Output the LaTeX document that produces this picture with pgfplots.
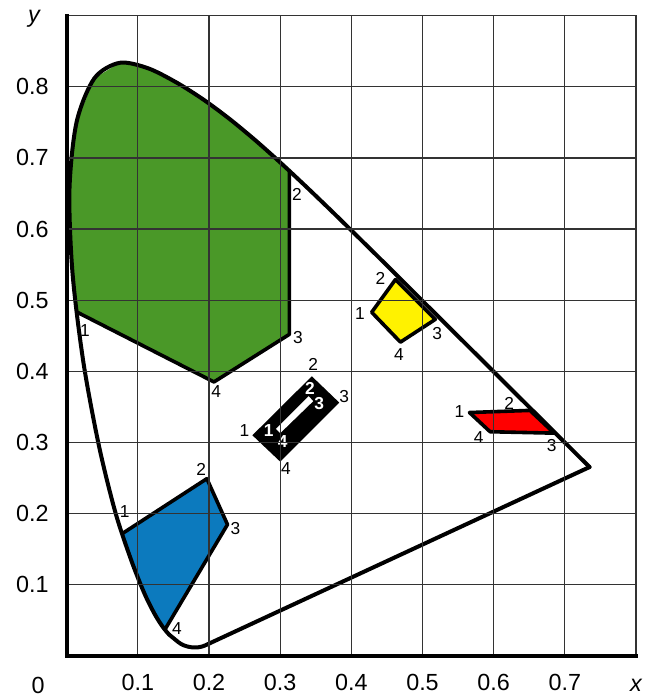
\documentclass[border=0pt]{standalone}
\usepackage{fontspec}
\setmainfont{Liberation Sans}
\usepackage{pgfplots}
\pgfplotsset{compat=1.18}
\definecolor{cgreen}{RGB}{74,152,40}
\definecolor{cblue}{RGB}{12,122,190}
\begin{document}
\begin{tikzpicture}
\begin{axis}[
  scale only axis, width=427pt, height=480pt,
  xmin=0, xmax=0.8, ymin=0, ymax=0.9,
  xtick={0.1,0.2,0.3,0.4,0.5,0.6,0.7},
  xticklabels={0.1,0.2,0.3,0.4,0.5,0.6,0.7},
  ytick={0.1,0.2,0.3,0.4,0.5,0.6,0.7,0.8},
  yticklabels={0.1,0.2,0.3,0.4,0.5,0.6,0.7,0.8},
  major tick length=0pt,
  grid=major,
  grid style={black!80, line width=0.9pt},
  axis line style={black!80, line width=0.9pt},
  axis on top,
  tick label style={font=\fontsize{17.5}{20}\selectfont},
  xticklabel style={yshift=-10pt},
  yticklabel style={xshift=-10pt},
  clip=false,
]
% Green region
\addplot[fill=cgreen, draw=none] coordinates {
 (0.015,0.483) (0.207,0.385) (0.313,0.452) (0.313,0.681)
 (0.3016,0.6923) (0.2658,0.7243) (0.2296,0.7543) (0.1929,0.7816)
 (0.1547,0.8059) (0.1142,0.8262) (0.0743,0.8338) (0.0389,0.8120)
 (0.0139,0.7502) (0.0039,0.6548) (0.0082,0.5384) (0.015,0.483)} --cycle;
\addplot[black, line width=2.7pt, line join=round] coordinates {
 (0.015,0.483) (0.207,0.385) (0.313,0.452) (0.313,0.681)};
% Blue region
\addplot[fill=cblue, draw=none] coordinates {
 (0.0785,0.172) (0.197,0.249) (0.226,0.1845) (0.138,0.0367)
 (0.1241,0.0578) (0.1096,0.0868) (0.0913,0.1327) (0.0785,0.172)} --cycle;
\addplot[black, line width=2.7pt, line join=round] coordinates {
 (0.0785,0.172) (0.197,0.249) (0.226,0.1845) (0.138,0.0367)};
% Yellow region
\addplot[fill=yellow, draw=black, line width=2.7pt, line join=round] coordinates {
 (0.4286,0.483) (0.462,0.529) (0.518,0.473) (0.469,0.441)} --cycle;
% Red region
\addplot[fill=red, draw=black, line width=2.7pt, line join=round] coordinates {
 (0.566,0.342) (0.651,0.345) (0.685,0.313) (0.595,0.315)} --cycle;
% White (achromatic) region
\addplot[fill=black, draw=none] coordinates {
 (0.261,0.310) (0.3445,0.393) (0.383,0.356) (0.300,0.273)} --cycle;
\addplot[fill=white, draw=none] coordinates {
 (0.294,0.319) (0.340,0.365) (0.3464,0.358) (0.300,0.313)} --cycle;
% Spectral locus
\addplot[black, line width=3pt, smooth, tension=0.5, line join=round, line cap=round] coordinates {
 (0.1440,0.0297) (0.1355,0.0399)
 (0.1241,0.0578) (0.1096,0.0868) (0.0913,0.1327) (0.0687,0.2007)
 (0.0454,0.2950) (0.0235,0.4127) (0.0082,0.5384) (0.0039,0.6548)
 (0.0139,0.7502) (0.0389,0.8120) (0.0743,0.8338) (0.1142,0.8262)
 (0.1547,0.8059) (0.1929,0.7816) (0.2296,0.7543) (0.2658,0.7243)
 (0.3016,0.6923) (0.3373,0.6589) (0.3731,0.6245) (0.4087,0.5896)
 (0.4441,0.5547) (0.4788,0.5202) (0.5125,0.4866) (0.5448,0.4544)
 (0.5752,0.4242) (0.6029,0.3965) (0.6270,0.3725) (0.6482,0.3514)
 (0.6658,0.3340) (0.6801,0.3197) (0.6915,0.3083) (0.7079,0.2920)
 (0.7190,0.2809) (0.7260,0.2740) (0.7300,0.2700) (0.7334,0.2666)
 (0.7347,0.2653)};
% Purple line and rounded bottom corner
\addplot[black, line width=3pt, line join=round, line cap=round, rounded corners=12pt] coordinates {
 (0.7347,0.2653) (0.1741,0.0050) (0.1440,0.0297)};
\coordinate (O) at (rel axis cs:0,0);
\coordinate (NW) at (rel axis cs:0,1);
\coordinate (SE) at (rel axis cs:1,0);
% Corner labels
\begin{scope}[font=\fontsize{13}{15}\selectfont]
\node at (axis cs:0.0256,0.457) {1};
\node at (axis cs:0.3235,0.649) {2};
\node at (axis cs:0.325,0.448) {3};
\node at (axis cs:0.210,0.372) {4};
\node at (axis cs:0.412,0.481) {1};
\node at (axis cs:0.441,0.530) {2};
\node at (axis cs:0.5205,0.4537) {3};
\node at (axis cs:0.467,0.423) {4};
\node at (axis cs:0.2497,0.317) {1};
\node at (axis cs:0.3464,0.4097) {2};
\node at (axis cs:0.390,0.3638) {3};
\node at (axis cs:0.308,0.263) {4};
\node[white, font=\fontsize{13}{15}\selectfont\bfseries] at (axis cs:0.2838,0.317) {1};
\node[white, font=\fontsize{13}{15}\selectfont\bfseries] at (axis cs:0.342,0.3756) {2};
\node[white, font=\fontsize{13}{15}\selectfont\bfseries] at (axis cs:0.3548,0.3553) {3};
\node[white, font=\fontsize{13}{15}\selectfont\bfseries] at (axis cs:0.3034,0.3006) {4};
\node at (axis cs:0.5518,0.344) {1};
\node at (axis cs:0.622,0.355) {2};
\node at (axis cs:0.6815,0.296) {3};
\node at (axis cs:0.579,0.3067) {4};
\node at (axis cs:0.0817,0.2022) {1};
\node at (axis cs:0.189,0.2618) {2};
\node at (axis cs:0.237,0.179) {3};
\node at (axis cs:0.155,0.0385) {4};
\end{scope}
\end{axis}
% Thick left and bottom axis lines
\draw[line width=2.8pt, line cap=rect] (NW) -- (O) -- (SE);
\node[font=\fontsize{17.5}{20}\selectfont] at ([xshift=-21.5pt,yshift=-22pt]O) {0};
\node[font=\fontsize{17.5}{20}\selectfont\itshape] at ([xshift=-24.5pt,yshift=-2.5pt]NW) {y};
\node[font=\fontsize{17.5}{20}\selectfont\itshape] at ([yshift=-22.4pt]SE) {x};
\path[use as bounding box] ([xshift=-50pt,yshift=-33.2pt]O) rectangle ++(485.25pt,525pt);
\end{tikzpicture}
\end{document}
